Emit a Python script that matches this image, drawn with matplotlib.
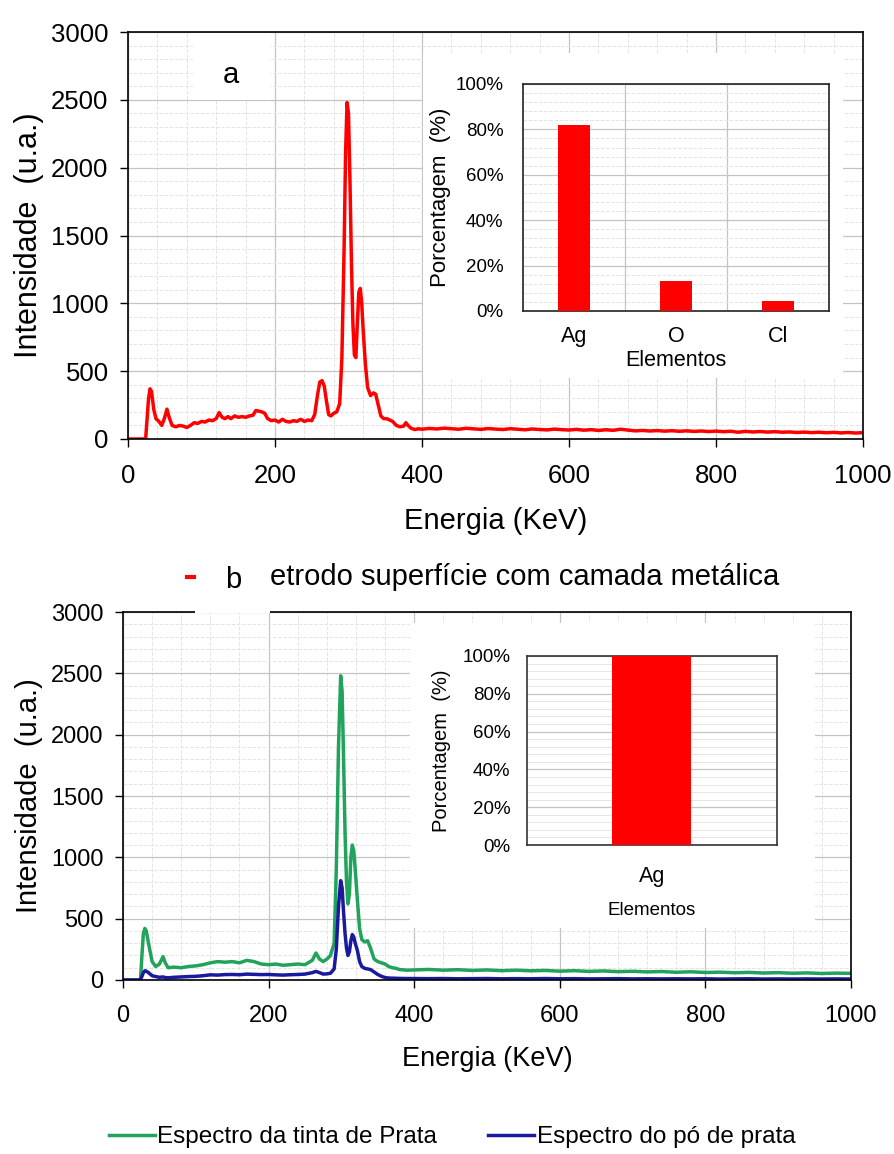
import matplotlib
matplotlib.use("Agg")
import matplotlib.pyplot as plt
from matplotlib.patches import Rectangle
from matplotlib.lines import Line2D
from matplotlib.ticker import MultipleLocator, PercentFormatter

plt.rcParams['font.family'] = ['Liberation Sans', 'DejaVu Sans']

# ---------------- data ----------------
# panel a: spectrum of electrode with metallic layer
energy_a = [0, 24, 26, 28, 30, 32, 35, 38, 42, 46, 50, 53, 56, 60, 65, 70, 75, 80, 85, 90,
            95, 100, 105, 110, 115, 120, 124, 128, 132, 136, 140, 145, 150, 155, 160, 165, 170,
            174, 178, 182, 186, 190, 195, 200, 205, 210, 215, 220, 225, 230, 235, 240, 245, 250,
            254, 258, 261, 264, 267, 270, 273, 276, 280, 284, 288, 291, 294, 296, 298, 300, 302,
            304, 306, 308, 310, 312, 314, 316, 318, 320, 323, 326, 330, 334, 337, 340, 344, 348,
            352, 356, 360, 365, 370, 375, 378, 381, 385, 390, 395, 400,
            410, 420, 430, 440, 450, 460, 470, 480, 490, 500, 510, 520, 530, 540, 550, 560, 570,
            580, 590, 600, 610, 620, 630, 640, 650, 660, 670, 680, 690, 700, 710, 720, 730, 740,
            750, 760, 770, 780, 790, 800, 810, 820, 830, 840, 850, 860, 870, 880, 890, 900, 910,
            920, 930, 940, 950, 960, 970, 980, 990, 1000]
intensity_a = [0, 0, 150, 300, 370, 350, 220, 150, 130, 100, 160, 220, 160, 100, 90, 100, 95, 85, 100, 120,
               115, 130, 125, 140, 135, 150, 195, 160, 150, 165, 150, 170, 160, 165, 160, 170, 175,
               210, 205, 200, 190, 150, 135, 140, 125, 145, 130, 125, 135, 130, 145, 130, 140, 135,
               180, 330, 420, 430, 390, 280, 180, 170, 190, 200, 260, 600, 1400, 2100, 2480, 2400, 1900,
               1300, 850, 620, 600, 850, 1080, 1110, 1000, 800, 550, 380, 320, 340, 330, 260, 170, 150,
               150, 140, 130, 100, 90, 95, 120, 100, 80, 70, 75, 72,
               78, 74, 80, 76, 72, 79, 75, 71, 77, 73, 70, 76, 72, 68, 74, 70, 67,
               73, 69, 66, 71, 65, 69, 63, 68, 64, 72, 66, 60, 63, 59, 62, 58, 61,
               57, 60, 56, 59, 55, 58, 54, 57, 50, 56, 52, 55, 51, 54, 50, 52, 48,
               51, 47, 50, 46, 49, 45, 48, 44, 47]

# panel b: silver ink and silver powder spectra
energy_b = [0, 24, 26, 28, 30, 32, 35, 40, 45, 50, 55, 58, 62, 70, 80, 90, 100, 110, 120, 130,
            140, 150, 160, 170, 180, 190, 200, 210, 220, 230, 240, 250, 260, 265, 270, 275, 280,
            285, 290, 293, 296, 299, 301, 303, 305, 307, 309, 311, 313, 315, 317, 319, 322, 325,
            328, 332, 336, 340, 345, 350, 355, 360, 365, 370, 375, 380, 390, 400,
            420, 440, 460, 480, 500, 520, 540, 560, 580, 600, 620, 640, 660, 680, 700, 720, 740,
            760, 780, 800, 820, 840, 860, 880, 900, 920, 940, 960, 980, 1000]
intensity_ink = [0, 0, 200, 380, 420, 400, 300, 150, 110, 130, 190, 140, 100, 105, 100, 110, 115, 125, 140, 150,
                 145, 150, 140, 160, 150, 130, 125, 130, 120, 125, 130, 125, 160, 220, 170, 150, 170,
                 200, 300, 900, 1900, 2480, 2350, 1800, 1200, 800, 620, 700, 1000, 1100, 1050, 900, 650, 420,
                 330, 310, 320, 260, 170, 150, 140, 130, 110, 100, 95, 85, 80, 82,
                 86, 80, 84, 78, 82, 76, 80, 75, 78, 72, 76, 70, 74, 68, 71, 66, 69,
                 63, 67, 61, 64, 59, 62, 57, 60, 55, 58, 53, 56, 54]
intensity_powder = [0, 0, 30, 60, 75, 72, 60, 35, 28, 22, 25, 20, 18, 22, 25, 28, 30, 35, 42, 40,
                    44, 45, 43, 48, 46, 44, 45, 42, 40, 43, 45, 48, 60, 70, 60, 48, 50,
                    55, 90, 250, 600, 810, 750, 550, 380, 260, 200, 230, 320, 370, 350, 300, 240, 150,
                    110, 95, 90, 85, 65, 45, 30, 20, 16, 15, 14, 13, 12, 12,
                    11, 12, 10, 11, 12, 10, 11, 10, 12, 10, 11, 9, 10, 11, 9, 10, 9,
                    10, 9, 10, 8, 9, 10, 8, 9, 8, 9, 8, 9, 8]

elements_a = ['Ag', 'O', 'Cl']
percent_a = [82, 13, 4.5]
elements_b = ['Ag']
percent_b = [100]

RED = '#FF0000'
GREEN = '#22A35B'
BLUE = '#1A1A9E'

W, H = 895, 1154
fig = plt.figure(figsize=(W / 100, H / 100), dpi=100)


def fr(x0, y0, x1, y1):
    """pixel box (left, top, right, bottom) -> figure fraction rect"""
    return [x0 / W, 1 - y1 / H, (x1 - x0) / W, (y1 - y0) / H]


def style_main(ax, tick_fs):
    ax.set_xlim(0, 1000)
    ax.set_ylim(0, 3000)
    ax.xaxis.set_major_locator(MultipleLocator(200))
    ax.xaxis.set_minor_locator(MultipleLocator(40))
    ax.yaxis.set_major_locator(MultipleLocator(500))
    ax.yaxis.set_minor_locator(MultipleLocator(100))
    ax.grid(which='major', color='#c4c4c4', lw=0.9)
    ax.grid(which='minor', color='#e4e4e4', lw=0.7, ls='--')
    ax.set_axisbelow(True)
    ax.tick_params(which='major', length=6, width=1, labelsize=tick_fs, direction='out')
    ax.tick_params(axis='x', pad=12)
    ax.tick_params(axis='y', pad=8)
    ax.tick_params(which='minor', length=0)
    for s in ax.spines.values():
        s.set_color('black')
        s.set_linewidth(1.2)


# ---------------- panel a ----------------
ax1 = fig.add_axes(fr(128, 32, 863, 439))
ax1.plot(energy_a, intensity_a, color=RED, lw=2.5)
style_main(ax1, 18.5)
ax1.set_xlabel('Energia (KeV)', fontsize=21, labelpad=14)
ax1.set_ylabel('Intensidade  (u.a.)', fontsize=22, labelpad=5)

fig.patches.append(Rectangle((423 / W, 1 - 378 / H), 420 / W, 325 / H, transform=fig.transFigure,
                             facecolor='white', edgecolor='none', zorder=1))
fig.patches.append(Rectangle((193 / W, 1 - 100 / H), 77 / W, 67 / H, transform=fig.transFigure,
                             facecolor='white', edgecolor='none', zorder=1))
fig.text(231 / W, 1 - 75 / H, 'a', fontsize=21, ha='center', va='center', zorder=3)

ins1 = fig.add_axes(fr(523, 84, 829, 311), zorder=2)
ins1.bar(range(len(elements_a)), percent_a, width=0.32, color=RED, zorder=3)
ins1.set_xlim(-0.5, 2.5)
ins1.set_ylim(0, 100)
ins1.set_xticks(range(len(elements_a)))
ins1.set_xticklabels(elements_a)
ins1.set_xticks([0.5, 1.5], minor=True)
ins1.yaxis.set_major_locator(MultipleLocator(20))
ins1.yaxis.set_minor_locator(MultipleLocator(4))
ins1.yaxis.set_major_formatter(PercentFormatter(100, decimals=0))
ins1.grid(which='major', axis='y', color='#c4c4c4', lw=0.9)
ins1.grid(which='minor', axis='y', color='#e4e4e4', lw=0.7, ls='--')
ins1.grid(which='minor', axis='x', color='#c4c4c4', lw=0.9)
ins1.set_axisbelow(True)
ins1.tick_params(which='both', length=0)
ins1.tick_params(axis='y', labelsize=13.5, pad=14)
ins1.tick_params(axis='x', labelsize=15.5, pad=11)
ins1.set_xlabel('Elementos', fontsize=15.5, labelpad=2)
ins1.set_ylabel('Porcentagem  (%)', fontsize=16, labelpad=3)
for s in ins1.spines.values():
    s.set_color('#222222')
    s.set_linewidth(1.2)

# legend of panel a (partly hidden by the "b" label box)
fig.lines.append(Line2D([187 / W, 194 / W], [1 - 577 / H, 1 - 577 / H], transform=fig.transFigure,
                        color=RED, lw=3))
fig.text(270 / W, 1 - 577 / H, 'etrodo superfície com camada metálica', fontsize=21,
         ha='left', va='center')

# ---------------- panel b ----------------
ax2 = fig.add_axes(fr(123, 612, 851, 980))
ax2.plot(energy_b, intensity_ink, color=GREEN, lw=2.5, label='Espectro da tinta de Prata')
ax2.plot(energy_b, intensity_powder, color=BLUE, lw=2.5, label='Espectro do pó de prata')
style_main(ax2, 17)
ax2.set_xlabel('Energia (KeV)', fontsize=19.5, labelpad=14)
ax2.set_ylabel('Intensidade  (u.a.)', fontsize=21, labelpad=6)

fig.patches.append(Rectangle((410 / W, 1 - 928 / H), 405 / W, 305 / H, transform=fig.transFigure,
                             facecolor='white', edgecolor='none', zorder=1))
fig.patches.append(Rectangle((195 / W, 1 - 613 / H), 75 / W, 58 / H, transform=fig.transFigure,
                             facecolor='white', edgecolor='none', zorder=1))
fig.text(233 / W, 1 - 580 / H, 'b', fontsize=21, ha='center', va='center', zorder=3)

ins2 = fig.add_axes(fr(527, 656, 777, 845), zorder=2)
ins2.bar(range(len(elements_b)), percent_b, width=0.316, color=RED, zorder=3)
ins2.set_xlim(-0.5, 0.5)
ins2.set_ylim(0, 100)
ins2.set_xticks(range(len(elements_b)))
ins2.set_xticklabels(elements_b)
ins2.yaxis.set_major_locator(MultipleLocator(20))
ins2.yaxis.set_minor_locator(MultipleLocator(4))
ins2.yaxis.set_major_formatter(PercentFormatter(100, decimals=0))
ins2.grid(which='major', axis='y', color='#c4c4c4', lw=0.9)
ins2.grid(which='minor', axis='y', color='#e6e6e6', lw=0.7)
ins2.set_axisbelow(True)
ins2.tick_params(which='both', length=0)
ins2.tick_params(axis='y', labelsize=13.5, pad=12)
ins2.tick_params(axis='x', labelsize=15.5, pad=15)
ins2.set_xlabel('Elementos', fontsize=13.5, labelpad=11)
ins2.set_ylabel('Porcentagem  (%)', fontsize=14.5, labelpad=8)
for s in ins2.spines.values():
    s.set_color('#333333')
    s.set_linewidth(1.2)

handles, labels = ax2.get_legend_handles_labels()
fig.legend(handles, labels, loc='center', bbox_to_anchor=(452 / W, 1 - 1137 / H), ncol=2,
           frameon=False, fontsize=17.5, handlelength=1.9, handletextpad=0.1, columnspacing=2.1)

fig.savefig('out.png', dpi=100)
